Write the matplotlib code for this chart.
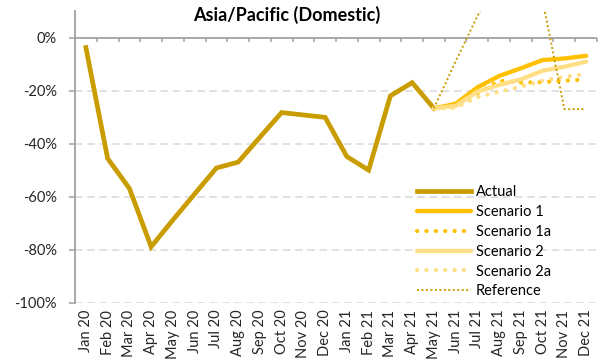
import numpy as np
import matplotlib
matplotlib.use('Agg')
import matplotlib.pyplot as plt
from matplotlib.ticker import FuncFormatter

# Monthly change vs. 2019, Asia/Pacific domestic
months = ['Jan 20', 'Feb 20', 'Mar 20', 'Apr 20', 'May 20', 'Jun 20',
          'Jul 20', 'Aug 20', 'Sep 20', 'Oct 20', 'Nov 20', 'Dec 20',
          'Jan 21', 'Feb 21', 'Mar 21', 'Apr 21', 'May 21', 'Jun 21',
          'Jul 21', 'Aug 21', 'Sep 21', 'Oct 21', 'Nov 21', 'Dec 21']

actual = [-3.8, -45.6, -56.9, -78.9, -68.8, -59.0, -49.2, -47.0, -37.6,
          -28.3, -29.2, -30.1, -44.9, -50.0, -22.0, -17.0, -26.7]

# forecasts start from the last actual month (May 21)
scenario_1 = [-26.7, -25.0, -18.8, -14.5, -11.6, -8.5, -7.9, -6.9]
scenario_1a = [-26.7, -25.5, -21.0, -16.3, -17.0, -16.8, -16.3, -15.8]
scenario_2 = [-26.7, -25.8, -20.4, -17.9, -15.8, -12.5, -11.0, -9.1]
scenario_2a = [-26.7, -26.5, -22.5, -20.5, -18.5, -16.3, -14.8, -13.8]
reference = [-26.7, -9.0, 8.0, 25.0, 28.0, 14.0, -27.0, -27.0]

gold = '#C99C00'
amber = '#FFC000'
pale = '#FFDF85'
axis_grey = '#A0A0A0'
grid_grey = '#D9D9D9'

plt.rcParams['font.family'] = ['Lato', 'DejaVu Sans']


def pct(v, pos):
    v = round(v * 100)
    return '{:d}%'.format(int(v) if v != 0 else 0)


x_all = np.arange(len(months))
x_act = x_all[:len(actual)]
x_fc = x_all[len(actual) - 1:]

fig = plt.figure(figsize=(6.04, 3.61), dpi=100)
ax = fig.add_axes([0.1242, 0.1615, 0.8642, 0.808])

ax.plot(x_act, np.array(actual) / 100, color=gold, lw=3.4,
        solid_joinstyle='miter', label='Actual')
ax.plot(x_fc, np.array(scenario_1) / 100, color=amber, lw=3.1,
        solid_capstyle='round', label='Scenario 1')
ax.plot(x_fc, np.array(scenario_1a) / 100, color=amber, lw=3.0,
        linestyle=(0, (0.05, 2.2)), dash_capstyle='round',
        label='Scenario 1a')
ax.plot(x_fc, np.array(scenario_2) / 100, color=pale, lw=3.1,
        solid_capstyle='round', label='Scenario 2')
ax.plot(x_fc, np.array(scenario_2a) / 100, color=pale, lw=3.0,
        linestyle=(0, (0.05, 2.2)), dash_capstyle='round',
        label='Scenario 2a')
ax.plot(x_fc, np.array(reference) / 100, color=gold, lw=1.4,
        linestyle=(0, (1, 1.3)), label='Reference')

ax.set_xlim(-0.5, len(months) - 0.5)
ax.set_ylim(-1.0, 0.1)

# y axis: ticks every 20%, dashed grid lines below 0
ax.set_yticks(np.arange(-1.0, 0.01, 0.2))
ax.yaxis.set_major_formatter(FuncFormatter(pct))
for y in np.arange(-1.0, -0.01, 0.2):
    ax.axhline(y, color=grid_grey, lw=1.1, linestyle=(0, (5, 3)), zorder=0)
ax.tick_params(axis='y', direction='out', length=4, width=1.1,
               color=axis_grey, labelsize=10.5, pad=9, labelcolor='#262626')

# category labels sit at the bottom, rotated
ax.set_xticks(x_all)
ax.set_xticklabels(months, rotation=90)
ax.tick_params(axis='x', length=0, labelsize=10.5, pad=5, labelcolor='#262626')

for side in ['top', 'right', 'bottom']:
    ax.spines[side].set_visible(False)
ax.spines['left'].set_color(axis_grey)
ax.spines['left'].set_linewidth(1.3)

# horizontal category axis crossing at 0%, ticks between categories
ax.axhline(0, color=axis_grey, lw=1.3, zorder=1)
bounds = np.arange(0.5, len(months), 1.0)
ax.plot(bounds, np.zeros(len(bounds)), ls='none', marker=3, ms=3.2,
        mew=1.1, color=axis_grey, zorder=1, clip_on=False)

fig.text(0.474, 0.958, 'Asia/Pacific (Domestic)', ha='center', va='center',
         fontsize=13, fontweight='bold', color='#000000')

ax.legend(loc='upper left', bbox_to_anchor=(0.690, 0.487),
          bbox_transform=fig.transFigure, frameon=False, fontsize=10.5,
          handlelength=3.7, handletextpad=0.35, labelspacing=0.4,
          borderpad=0, borderaxespad=0)

fig.savefig('out.png', dpi=100)
